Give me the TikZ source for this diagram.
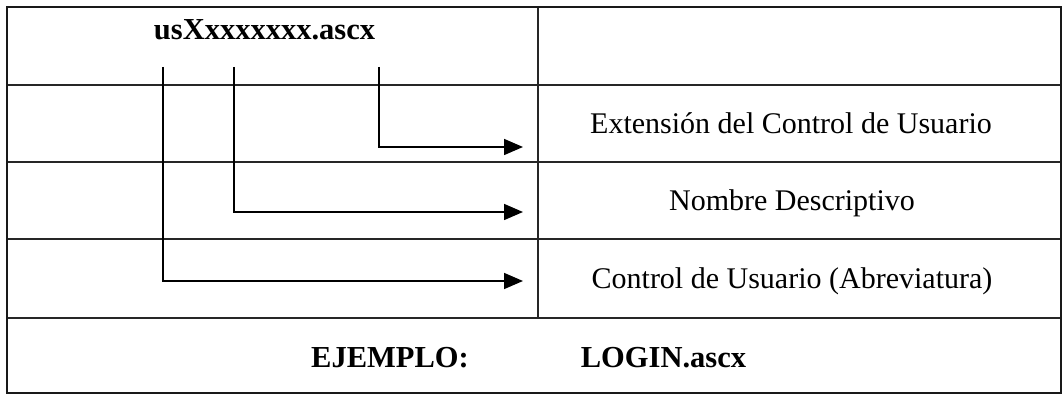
\documentclass[tikz,border=0pt]{standalone}
\usepackage{fontspec}
\setmainfont{Liberation Serif}
\usetikzlibrary{arrows.meta}
\begin{document}
\begin{tikzpicture}[x=1pt,y=-1pt,
  grid/.style={line width=1.4pt, black!85},
  frame/.style={line width=2.4pt, black!90},
  lbl/.style={font=\fontsize{30}{36}\selectfont, inner sep=0pt, anchor=base},
  blbl/.style={font=\fontsize{30.5}{36}\selectfont\bfseries, inner sep=0pt, anchor=base},
  conn/.style={line width=1.6pt, -{Triangle[length=19pt,width=16pt]}}
]
\useasboundingbox (0,0) rectangle (1063,395);
% grid lines
\draw[grid] (7,85) -- (1061,85);
\draw[grid] (7,162) -- (1061,162);
\draw[grid] (7,239) -- (1061,239);
\draw[grid] (7,318) -- (1061,318);
\draw[grid] (538,7) -- (538,318);
\draw[frame] (7,7) rectangle (1061,393);
% texts
\node[blbl] (name) at (264.5,40) {usXxxxxxxx.ascx};
\node[lbl] (ext) at (791,134) {Extensión del Control de Usuario};
\node[lbl] (nom) at (792,211) {Nombre Descriptivo};
\node[lbl] (ctl) at (792,289) {Control de Usuario (Abreviatura)};
\node[blbl] (ej) at (390,367) {EJEMPLO:};
\node[blbl] (login) at (663.5,367) {LOGIN.ascx};
% connectors
\coordinate (s1) at (163,67);
\coordinate (s2) at (234,67);
\coordinate (s3) at (379,67);
\coordinate (t1) at (523,281);
\coordinate (t2) at (523,212);
\coordinate (t3) at (523,147);
\draw[conn] (s3) |- (t3);
\draw[conn] (s2) |- (t2);
\draw[conn] (s1) |- (t1);
\end{tikzpicture}
\end{document}
